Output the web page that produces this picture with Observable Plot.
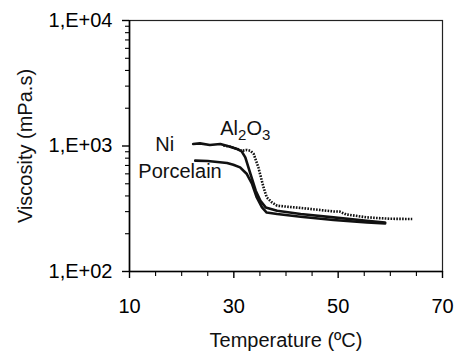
<!DOCTYPE html>
<html>
<head>
<meta charset="utf-8">
<script src="https://cdn.jsdelivr.net/npm/d3@7"></script>
<script src="https://cdn.jsdelivr.net/npm/@observablehq/plot@0.6"></script>
<style>
  html, body { margin: 0; padding: 0; background: #fff; }
  #chart svg { display: block; }
</style>
</head>
<body>
<div id="chart"></div>
<script>
// ---- data ----
const niTemp = [22.2, 23.5, 25.4, 27.4, 29.3, 30.6, 31.5, 32.2, 33.2, 34.2, 35.1, 36.1, 38.3, 42.8, 49.1, 55.5, 59.0];
const niVisc = [1038, 1049, 1020, 1038, 988, 947, 905, 811, 598, 440, 366, 324, 305, 287, 270, 254, 246];

const porcTemp = [22.6, 25.0, 28.7, 29.9, 31.2, 32.5, 33.5, 34.4, 35.4, 36.3, 38.3, 42.8, 49.1, 55.5, 59.0];
const porcVisc = [764, 760, 733, 710, 676, 598, 498, 389, 324, 295, 287, 273, 257, 246, 242];

const aluTemp = [28.0, 29.3, 30.6, 31.5, 32.5, 33.2, 33.8, 34.7, 35.7, 36.3, 37.3, 38.3, 42.8, 49.1, 50.3, 51.5, 55.5, 60.0, 64.2];
const aluVisc = [1010, 985, 950, 915, 930, 915, 865, 676, 467, 390, 355, 334, 321, 301, 300, 285, 270, 263, 262];

const xTicks = [10, 30, 50, 70];
const xMinorTicks = [15, 20, 25, 35, 40, 45, 55, 60, 65];
const yTicks = [100, 1000, 10000];
const yTickLabels = ["1,E+02", "1,E+03", "1,E+04"];
const yMinorTicks = [200, 300, 400, 500, 600, 700, 800, 900, 2000, 3000, 4000, 5000, 6000, 7000, 8000, 9000];

const seriesLabels = ["Ni", "Al2O3", "Porcelain"];
const xTitle = "Temperature (ºC)";
const yTitle = "Viscosity (mPa.s)";

// ---- tables built from the arrays ----
const ni = niTemp.map((t, i) => ({t, v: niVisc[i]}));
const porc = porcTemp.map((t, i) => ({t, v: porcVisc[i]}));
const alu = aluTemp.map((t, i) => ({t, v: aluVisc[i]}));
const labelPos = [
  {name: seriesLabels[0], t: 14.95, v: 1026},
  {name: seriesLabels[1], t: 27.4, v: 1367},
  {name: seriesLabels[2], t: 11.7, v: 624}
];

const FONT = "'Liberation Sans', Arial, Helvetica, sans-serif";

const chart = Plot.plot({
  width: 454,
  height: 351,
  marginLeft: 129,
  marginRight: 12,
  marginTop: 20,
  marginBottom: 80,
  style: {fontFamily: FONT, fontSize: "20px", color: "#000", background: "#fff"},
  x: {domain: [10, 70]},
  y: {type: "log", domain: [100, 10000]},
  marks: [
    Plot.frame({stroke: "#222", strokeWidth: 1.2}),
    Plot.ruleX([10], {stroke: "#000", strokeWidth: 1.6}),
    Plot.ruleY([100], {stroke: "#000", strokeWidth: 1.6}),
    Plot.axisX({ticks: xTicks, tickSize: 7, tickPadding: 20, tickFormat: d => String(d), label: null, fontSize: 20, strokeWidth: 1.4}),
    Plot.axisX({ticks: xMinorTicks, tickSize: 5, tickFormat: () => "", label: null, strokeWidth: 1.1}),
    Plot.axisY({ticks: yTicks, tickSize: 7, tickPadding: 10, tickFormat: d => yTickLabels[yTicks.indexOf(d)], label: null, fontSize: 20, strokeWidth: 1.4}),
    Plot.axisY({ticks: yMinorTicks, tickSize: 4, tickFormat: () => "", label: null, strokeWidth: 1.1}),
    Plot.line(alu, {x: "t", y: "v", stroke: "#111", strokeWidth: 2.6, strokeDasharray: "1.6,1.3", strokeLinecap: "butt", strokeLinejoin: "miter"}),
    Plot.line(porc, {x: "t", y: "v", stroke: "#111", strokeWidth: 2.6}),
    Plot.line(ni, {x: "t", y: "v", stroke: "#111", strokeWidth: 2.6}),
    Plot.text(labelPos, {x: "t", y: "v", text: "name", textAnchor: "start", lineAnchor: "middle", fontSize: 20, fill: "#111"}),
    Plot.text([xTitle], {frameAnchor: "bottom", dy: 69, textAnchor: "middle", lineAnchor: "middle", fontSize: 20, fill: "#111"}),
    Plot.text([yTitle], {frameAnchor: "left", dx: -104, rotate: -90, textAnchor: "middle", lineAnchor: "middle", fontSize: 20, fill: "#111"})
  ]
});

// subscripts for Al2O3
chart.querySelectorAll("text").forEach(el => {
  if (el.textContent === "Al2O3") {
    el.innerHTML = 'Al<tspan dy="5" font-size="15">2</tspan><tspan dy="-5">O</tspan><tspan dy="5" font-size="15">3</tspan>';
  }
});

document.getElementById("chart").appendChild(chart);
</script>
</body>
</html>
